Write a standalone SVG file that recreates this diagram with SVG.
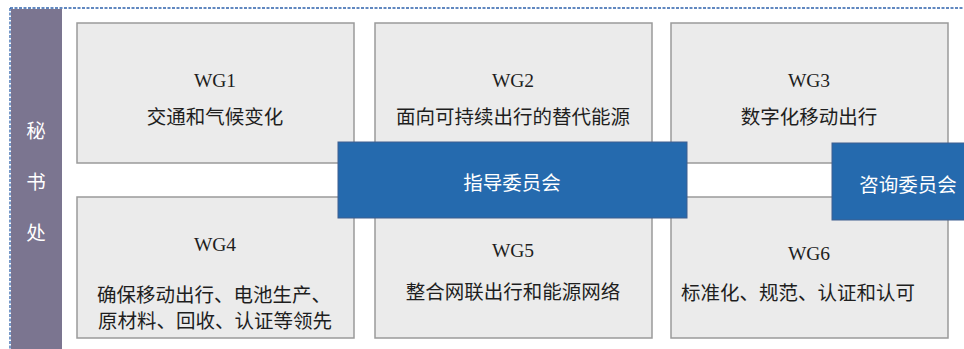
<svg xmlns="http://www.w3.org/2000/svg" width="964" height="349" viewBox="0 0 964 349">
<style>
.wg{fill:#ebebeb;stroke:#9a9a9a;stroke-width:1.5}
.t{font-family:"Liberation Serif","Noto Sans CJK SC",serif;font-size:19.5px;fill:#1e1e1e;text-anchor:middle}
.c{font-family:"Liberation Serif","Noto Sans CJK SC",serif;font-size:19.5px;fill:#fff;text-anchor:middle}
.blue{fill:#256aae;stroke:#3f5f8f;stroke-width:1}
</style>
<rect width="964" height="349" fill="#fff"/>
<g id="frame">
<line x1="10" y1="8" x2="964" y2="8" stroke="#2e62ac" stroke-width="1.3" stroke-dasharray="3,1.5"/>
<line x1="10" y1="8" x2="10" y2="349" stroke="#2e62ac" stroke-width="1.3" stroke-dasharray="3,1.5"/>
</g>
<g id="secretariat">
<rect x="11" y="9" width="51" height="340" fill="#7b7590"/>
<text class="c" x="36" y="138">秘</text>
<text class="c" x="36" y="189">书</text>
<text class="c" x="36" y="240">处</text>
</g>
<g id="wg1"><rect class="wg" x="77" y="23" width="277" height="140"/>
<text class="t" x="215" y="87">WG1</text><text class="t" x="215" y="124">交通和气候变化</text></g>
<g id="wg2"><rect class="wg" x="375" y="23" width="277" height="140"/>
<text class="t" x="513" y="87">WG2</text><text class="t" x="513" y="124">面向可持续出行的替代能源</text></g>
<g id="wg3"><rect class="wg" x="671" y="23" width="277" height="140"/>
<text class="t" x="809" y="87">WG3</text><text class="t" x="809" y="124">数字化移动出行</text></g>
<g id="wg4"><rect class="wg" x="77" y="197" width="277" height="141"/>
<text class="t" x="215" y="251">WG4</text><text class="t" x="214" y="302">确保移动出行、电池生产、</text><text class="t" x="215" y="328">原材料、回收、认证等领先</text></g>
<g id="wg5"><rect class="wg" x="375" y="197" width="277" height="141"/>
<text class="t" x="513" y="257">WG5</text><text class="t" x="513" y="299">整合网联出行和能源网络</text></g>
<g id="wg6"><rect class="wg" x="671" y="197" width="277" height="141"/>
<text class="t" x="809" y="260">WG6</text><text class="t" x="798" y="300">标准化、规范、认证和认可</text></g>
<g id="steering"><rect class="blue" x="338" y="142" width="349" height="76"/>
<text class="c" x="512" y="190">指导委员会</text></g>
<g id="advisory"><rect class="blue" x="832" y="143" width="134" height="77"/>
<text class="c" x="908" y="192">咨询委员会</text></g>
<g id="connectors"></g>
</svg>
